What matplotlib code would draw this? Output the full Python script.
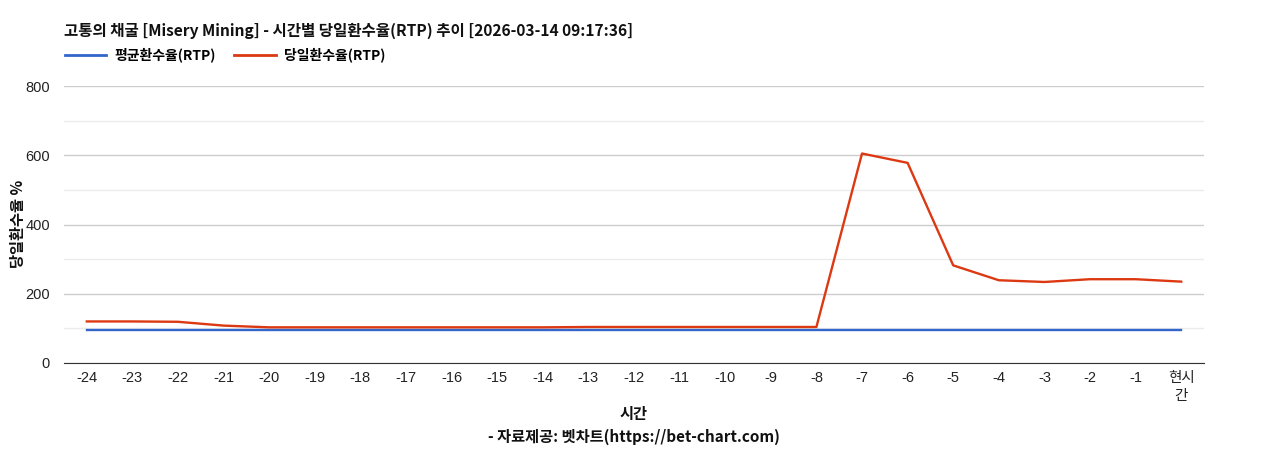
import numpy as np
import matplotlib
matplotlib.use("Agg")
import matplotlib.pyplot as plt
from matplotlib.lines import Line2D

plt.rcParams['font.family'] = ['Liberation Sans', 'Noto Sans CJK KR', 'DejaVu Sans']

hours = ["-24", "-23", "-22", "-21", "-20", "-19", "-18", "-17", "-16", "-15",
         "-14", "-13", "-12", "-11", "-10", "-9", "-8", "-7", "-6", "-5",
         "-4", "-3", "-2", "-1", "현시\n간"]
avg_rtp = [96] * 25
day_rtp = [120, 120, 119, 108, 103, 103, 103, 103, 103, 103,
           103, 104, 104, 104, 104, 104, 104, 605, 578, 282,
           239, 234, 242, 242, 235]

title = "고통의 채굴 [Misery Mining] - 시간별 당일환수율(RTP) 추이 [2026-03-14 09:17:36]"
kfont = ['Noto Sans CJK KR', 'DejaVu Sans']

fig = plt.figure(figsize=(12.68, 4.5), dpi=100)
ax = fig.add_axes([64 / 1268, 87 / 450, 1140 / 1268, 277 / 450])

x = np.arange(len(hours))
ax.plot(x, avg_rtp, color='#3366cc', lw=1.7, solid_joinstyle='round')
ax.plot(x, day_rtp, color='#dc3912', lw=1.7, solid_joinstyle='round')

ax.set_xlim(-0.5, len(hours) - 0.5)
ax.set_ylim(0, 800)
ax.set_yticks([0, 200, 400, 600, 800])
ax.set_yticks([100, 300, 500, 700], minor=True)
ax.grid(axis='y', which='major', color='#cccccc', lw=1)
ax.grid(axis='y', which='minor', color='#ebebeb', lw=1)
ax.set_axisbelow(True)
for s in ['top', 'right', 'left']:
    ax.spines[s].set_visible(False)
ax.spines['bottom'].set_color('#333333')
ax.tick_params(axis='both', which='both', length=0, labelsize=10.5, colors='#222222')
ax.tick_params(axis='y', pad=10)
ax.tick_params(axis='x', pad=6)
ax.set_xticks(x)
ax.set_xticklabels(hours, family=['Liberation Sans', 'Noto Sans CJK KR'], linespacing=1.35)

fig.text(64 / 1268, 1 - 31 / 450, title, family=kfont, fontweight='bold',
         fontsize=11.2, va='center', ha='left', color='#111111')

handles = [Line2D([], [], color='#3366cc', lw=2), Line2D([], [], color='#dc3912', lw=2)]
fig.legend(handles, ["평균환수율(RTP)", "당일환수율(RTP)"], loc='center left',
           bbox_to_anchor=(52 / 1268, 1 - 55 / 450), ncol=2, frameon=False,
           prop={'family': kfont, 'weight': 'bold', 'size': 10},
           handlelength=3.0, handletextpad=0.6, columnspacing=1.3)

fig.text(18 / 1268, 1 - 224 / 450, "당일환수율 %", family=kfont, fontweight='bold',
         fontsize=11, rotation=90, va='center', ha='center', color='#111111')
fig.text(634 / 1268, 1 - 414 / 450, "시간", family=kfont, fontweight='bold',
         fontsize=11, va='center', ha='center', color='#111111')
fig.text(634 / 1268, 1 - 437 / 450, "- 자료제공: 벳차트(https://bet-chart.com)", family=kfont,
         fontweight='bold', fontsize=11, va='center', ha='center', color='#111111')

fig.savefig("out.png", dpi=100)
